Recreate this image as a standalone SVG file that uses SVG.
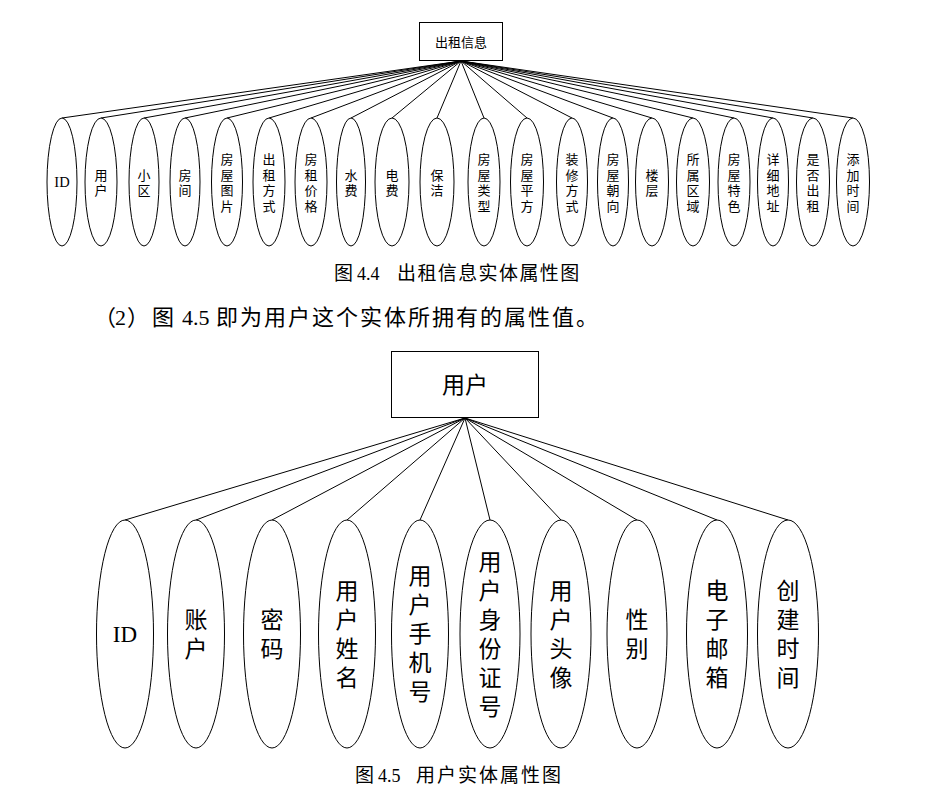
<svg xmlns="http://www.w3.org/2000/svg" width="946" height="791" viewBox="0 0 946 791">
<style>
.bg{fill:#fff}
.box{fill:#fff;stroke:#000;stroke-width:1}
.ell{fill:#fff;stroke:#000;stroke-width:1}
.ln{stroke:#000;stroke-width:1;fill:none}
.t1{font-family:"Liberation Serif","Noto Sans CJK SC",serif;font-size:13px;fill:#000;text-anchor:middle;dominant-baseline:central}
.t2{font-family:"Liberation Serif","Noto Sans CJK SC",serif;font-size:23px;fill:#000;text-anchor:middle;dominant-baseline:central}
.cap{font-family:"Liberation Serif","Noto Sans CJK SC",serif;font-size:18px;fill:#000}
.par{font-family:"Liberation Serif","Noto Sans CJK SC",serif;font-size:22px;fill:#000}
</style>
<rect class="bg" x="0" y="0" width="946" height="791"/>

<g id="connectors-top">
<line class="ln" x1="62" y1="118" x2="461" y2="61"/>
<line class="ln" x1="101" y1="118" x2="461" y2="61"/>
<line class="ln" x1="144" y1="118" x2="461" y2="61"/>
<line class="ln" x1="185" y1="118" x2="461" y2="61"/>
<line class="ln" x1="227" y1="118" x2="461" y2="61"/>
<line class="ln" x1="269" y1="118" x2="461" y2="61"/>
<line class="ln" x1="311" y1="118" x2="461" y2="61"/>
<line class="ln" x1="351" y1="118" x2="461" y2="61"/>
<line class="ln" x1="392" y1="118" x2="461" y2="61"/>
<line class="ln" x1="437" y1="118" x2="461" y2="61"/>
<line class="ln" x1="484" y1="118" x2="461" y2="61"/>
<line class="ln" x1="527" y1="118" x2="461" y2="61"/>
<line class="ln" x1="572" y1="118" x2="461" y2="61"/>
<line class="ln" x1="613" y1="118" x2="461" y2="61"/>
<line class="ln" x1="652" y1="118" x2="461" y2="61"/>
<line class="ln" x1="693" y1="118" x2="461" y2="61"/>
<line class="ln" x1="734" y1="118" x2="461" y2="61"/>
<line class="ln" x1="773" y1="118" x2="461" y2="61"/>
<line class="ln" x1="813" y1="118" x2="461" y2="61"/>
<line class="ln" x1="853" y1="118" x2="461" y2="61"/>
</g>

<g id="rent-info">
<rect class="box" x="419.5" y="22.5" width="83" height="38"/>
<text class="t1" x="461" y="42">出租信息</text>
</g>

<g id="a-id"><ellipse class="ell" cx="62" cy="182" rx="15" ry="64"/><text class="t1" x="62" y="182" style="font-size:14.5px">ID</text></g>
<g id="a-user"><ellipse class="ell" cx="101" cy="182" rx="16" ry="64"/><text class="t1"><tspan x="101" y="174.5">用</tspan><tspan x="101" y="190">户</tspan></text></g>
<g id="a-xiaoqu"><ellipse class="ell" cx="144" cy="182" rx="15" ry="64"/><text class="t1"><tspan x="144" y="174.5">小</tspan><tspan x="144" y="190">区</tspan></text></g>
<g id="a-fangjian"><ellipse class="ell" cx="185" cy="182" rx="15" ry="64"/><text class="t1"><tspan x="185" y="174.5">房</tspan><tspan x="185" y="190">间</tspan></text></g>
<g id="a-tupian"><ellipse class="ell" cx="227" cy="182" rx="15.5" ry="64"/><text class="t1"><tspan x="227" y="159">房</tspan><tspan x="227" y="174.5">屋</tspan><tspan x="227" y="190">图</tspan><tspan x="227" y="205.5">片</tspan></text></g>
<g id="a-fangshi"><ellipse class="ell" cx="269" cy="182" rx="16" ry="64"/><text class="t1"><tspan x="269" y="159">出</tspan><tspan x="269" y="174.5">租</tspan><tspan x="269" y="190">方</tspan><tspan x="269" y="205.5">式</tspan></text></g>
<g id="a-jiage"><ellipse class="ell" cx="311" cy="182" rx="16" ry="64"/><text class="t1"><tspan x="311" y="159">房</tspan><tspan x="311" y="174.5">租</tspan><tspan x="311" y="190">价</tspan><tspan x="311" y="205.5">格</tspan></text></g>
<g id="a-shuifei"><ellipse class="ell" cx="351" cy="182" rx="14.5" ry="64"/><text class="t1"><tspan x="351" y="174.5">水</tspan><tspan x="351" y="190">费</tspan></text></g>
<g id="a-dianfei"><ellipse class="ell" cx="392" cy="182" rx="17" ry="64"/><text class="t1"><tspan x="392" y="174.5">电</tspan><tspan x="392" y="190">费</tspan></text></g>
<g id="a-baojie"><ellipse class="ell" cx="437" cy="182" rx="17" ry="64"/><text class="t1"><tspan x="437" y="174.5">保</tspan><tspan x="437" y="190">洁</tspan></text></g>
<g id="a-leixing"><ellipse class="ell" cx="484" cy="182" rx="16" ry="64"/><text class="t1"><tspan x="484" y="159">房</tspan><tspan x="484" y="174.5">屋</tspan><tspan x="484" y="190">类</tspan><tspan x="484" y="205.5">型</tspan></text></g>
<g id="a-pingfang"><ellipse class="ell" cx="527" cy="182" rx="16.5" ry="64"/><text class="t1"><tspan x="527" y="159">房</tspan><tspan x="527" y="174.5">屋</tspan><tspan x="527" y="190">平</tspan><tspan x="527" y="205.5">方</tspan></text></g>
<g id="a-zhuangxiu"><ellipse class="ell" cx="572" cy="182" rx="15.5" ry="64"/><text class="t1"><tspan x="572" y="159">装</tspan><tspan x="572" y="174.5">修</tspan><tspan x="572" y="190">方</tspan><tspan x="572" y="205.5">式</tspan></text></g>
<g id="a-chaoxiang"><ellipse class="ell" cx="613" cy="182" rx="15.5" ry="64"/><text class="t1"><tspan x="613" y="159">房</tspan><tspan x="613" y="174.5">屋</tspan><tspan x="613" y="190">朝</tspan><tspan x="613" y="205.5">向</tspan></text></g>
<g id="a-louceng"><ellipse class="ell" cx="652" cy="182" rx="16.5" ry="64"/><text class="t1"><tspan x="652" y="174.5">楼</tspan><tspan x="652" y="190">层</tspan></text></g>
<g id="a-quyu"><ellipse class="ell" cx="693" cy="182" rx="16.5" ry="64"/><text class="t1"><tspan x="693" y="159">所</tspan><tspan x="693" y="174.5">属</tspan><tspan x="693" y="190">区</tspan><tspan x="693" y="205.5">域</tspan></text></g>
<g id="a-tese"><ellipse class="ell" cx="734" cy="182" rx="16" ry="64"/><text class="t1"><tspan x="734" y="159">房</tspan><tspan x="734" y="174.5">屋</tspan><tspan x="734" y="190">特</tspan><tspan x="734" y="205.5">色</tspan></text></g>
<g id="a-dizhi"><ellipse class="ell" cx="773" cy="182" rx="15.5" ry="64"/><text class="t1"><tspan x="773" y="159">详</tspan><tspan x="773" y="174.5">细</tspan><tspan x="773" y="190">地</tspan><tspan x="773" y="205.5">址</tspan></text></g>
<g id="a-chuzu"><ellipse class="ell" cx="813" cy="182" rx="16.5" ry="64"/><text class="t1"><tspan x="813" y="159">是</tspan><tspan x="813" y="174.5">否</tspan><tspan x="813" y="190">出</tspan><tspan x="813" y="205.5">租</tspan></text></g>
<g id="a-tianjia"><ellipse class="ell" cx="853" cy="182" rx="16.5" ry="64"/><text class="t1"><tspan x="853" y="159">添</tspan><tspan x="853" y="174.5">加</tspan><tspan x="853" y="190">时</tspan><tspan x="853" y="205.5">间</tspan></text></g>

<g id="caption-44">
<text class="cap" y="280"><tspan x="334" style="font-size:19px">图</tspan><tspan x="357">4.4</tspan><tspan x="397" style="font-size:19px" letter-spacing="1.4">出租信息实体属性图</tspan></text>
</g>

<g id="paragraph">
<text class="par" y="325"><tspan x="94">（</tspan><tspan x="115">2</tspan><tspan x="127">）</tspan><tspan x="152">图</tspan><tspan x="182">4.5</tspan><tspan x="216" letter-spacing="2">即为用户这个实体所拥有的属性值。</tspan></text>
</g>

<g id="connectors-bottom">
<line class="ln" x1="125" y1="520" x2="465" y2="418"/>
<line class="ln" x1="196" y1="520" x2="465" y2="418"/>
<line class="ln" x1="272" y1="520" x2="465" y2="418"/>
<line class="ln" x1="347" y1="520" x2="465" y2="418"/>
<line class="ln" x1="420" y1="520" x2="465" y2="418"/>
<line class="ln" x1="490" y1="520" x2="465" y2="418"/>
<line class="ln" x1="561" y1="520" x2="465" y2="418"/>
<line class="ln" x1="637" y1="520" x2="465" y2="418"/>
<line class="ln" x1="717" y1="520" x2="465" y2="418"/>
<line class="ln" x1="788" y1="520" x2="465" y2="418"/>
</g>

<g id="user">
<rect class="box" x="391.5" y="351.5" width="147" height="66"/>
<text class="t2" x="465" y="385">用户</text>
</g>

<g id="u-id"><ellipse class="ell" cx="125" cy="634" rx="28.5" ry="114"/><text class="t2" x="125" y="634">ID</text></g>
<g id="u-zhanghu"><ellipse class="ell" cx="196" cy="634" rx="28.5" ry="114"/><text class="t2"><tspan x="196" y="620">账</tspan><tspan x="196" y="649">户</tspan></text></g>
<g id="u-mima"><ellipse class="ell" cx="272" cy="634" rx="28.5" ry="114"/><text class="t2"><tspan x="272" y="620">密</tspan><tspan x="272" y="649">码</tspan></text></g>
<g id="u-xingming"><ellipse class="ell" cx="347" cy="634" rx="28.5" ry="114"/><text class="t2"><tspan x="347" y="591">用</tspan><tspan x="347" y="620">户</tspan><tspan x="347" y="649">姓</tspan><tspan x="347" y="678">名</tspan></text></g>
<g id="u-shouji"><ellipse class="ell" cx="420" cy="634" rx="28.5" ry="114"/><text class="t2"><tspan x="420" y="576">用</tspan><tspan x="420" y="605">户</tspan><tspan x="420" y="634">手</tspan><tspan x="420" y="663">机</tspan><tspan x="420" y="692">号</tspan></text></g>
<g id="u-shenfen"><ellipse class="ell" cx="490" cy="634" rx="30" ry="114"/><text class="t2"><tspan x="490" y="561.5">用</tspan><tspan x="490" y="590.5">户</tspan><tspan x="490" y="619.5">身</tspan><tspan x="490" y="648.5">份</tspan><tspan x="490" y="677.5">证</tspan><tspan x="490" y="706.5">号</tspan></text></g>
<g id="u-touxiang"><ellipse class="ell" cx="561" cy="634" rx="30" ry="114"/><text class="t2"><tspan x="561" y="591">用</tspan><tspan x="561" y="620">户</tspan><tspan x="561" y="649">头</tspan><tspan x="561" y="678">像</tspan></text></g>
<g id="u-xingbie"><ellipse class="ell" cx="637" cy="634" rx="30" ry="114"/><text class="t2"><tspan x="637" y="620">性</tspan><tspan x="637" y="649">别</tspan></text></g>
<g id="u-youxiang"><ellipse class="ell" cx="717" cy="634" rx="30.5" ry="114"/><text class="t2"><tspan x="717" y="591">电</tspan><tspan x="717" y="620">子</tspan><tspan x="717" y="649">邮</tspan><tspan x="717" y="678">箱</tspan></text></g>
<g id="u-chuangjian"><ellipse class="ell" cx="788" cy="634" rx="30.5" ry="114"/><text class="t2"><tspan x="788" y="591">创</tspan><tspan x="788" y="620">建</tspan><tspan x="788" y="649">时</tspan><tspan x="788" y="678">间</tspan></text></g>

<g id="caption-45">
<text class="cap" y="782"><tspan x="355" style="font-size:19px">图</tspan><tspan x="378">4.5</tspan><tspan x="416" style="font-size:19px" letter-spacing="2">用户实体属性图</tspan></text>
</g>
</svg>
